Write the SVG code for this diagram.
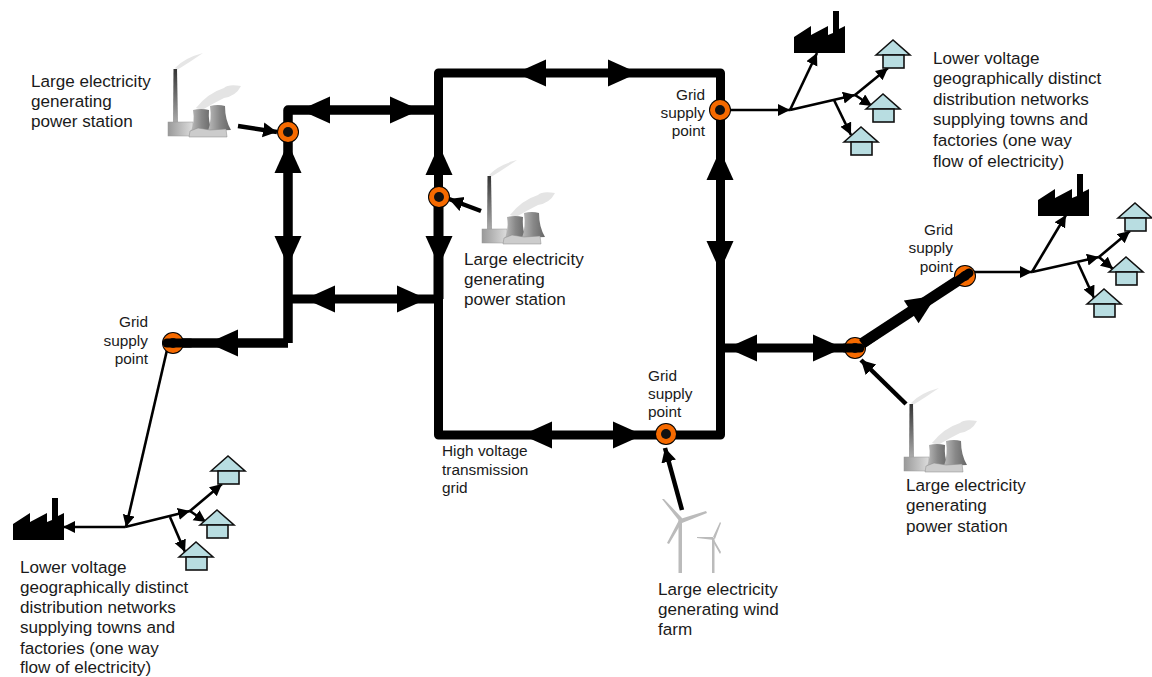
<svg xmlns="http://www.w3.org/2000/svg" width="1152" height="677" viewBox="0 0 1152 677">
<style>
text{font-family:"Liberation Sans",Arial,sans-serif;font-size:15.4px;fill:#1a1a1a}
.big{font-size:17.1px}
.grid{fill:none;stroke:#000;stroke-width:9;stroke-linejoin:round;stroke-linecap:butt}
.thin{fill:none;stroke:#000;stroke-width:2.6;marker-end:url(#a)}
.feed{fill:none;stroke:#000;stroke-width:4.5;marker-end:url(#b)}
.house{fill:#b8dde1;stroke:#111;stroke-width:1.6}
.r{text-anchor:end}
</style>
<defs>
<marker id="a" markerUnits="userSpaceOnUse" markerWidth="14" markerHeight="14" refX="12" refY="6" orient="auto"><path d="M0 0L12 6L0 12z"/></marker>
<marker id="b" markerUnits="userSpaceOnUse" markerWidth="16" markerHeight="16" refX="14" refY="7.5" orient="auto"><path d="M0 0L14 7.5L0 15z"/></marker>
<path id="hd" d="M10 0L-20-13.500L-20 13.500z"/>
<linearGradient id="ch" x1="0" y1="0" x2="0" y2="1"><stop offset="0" stop-color="#333"/><stop offset="1" stop-color="#aaa"/></linearGradient>
<linearGradient id="tw" x1="0" y1="0" x2="1" y2="0"><stop offset="0" stop-color="#bbb"/><stop offset=".5" stop-color="#888"/><stop offset="1" stop-color="#666"/></linearGradient>
<linearGradient id="bd" x1="0" y1="0" x2="1" y2="0"><stop offset="0" stop-color="#999"/><stop offset="1" stop-color="#ddd"/></linearGradient>
<g id="station">
<path d="M175 68Q184 58 203 53Q190 62 177 70z" fill="#e6e6e6"/>
<path d="M196 108Q208 93 224 88Q228 84 241 86Q236 96 224 98Q212 104 202 110z" fill="#e4e4e4"/>
<path d="M173 122L173.500 69L177 69L178 122z" fill="url(#ch)"/>
<rect x="168" y="122" width="25" height="14" fill="url(#bd)" stroke="#999" stroke-width=".5"/>
<path d="M193 110Q201 108 209 110Q208 122 212 131L191 131Q195 122 193 110z" fill="url(#tw)"/>
<path d="M210 106Q218 104 225 106Q225 120 231 130L208 131Q212 120 210 106z" fill="url(#tw)"/>
<path d="M189 137L190 131L198 128L210 130L226 129L227 137z" fill="#ccc" stroke="#888" stroke-width=".5"/>
</g>
<g id="factory"><path d="M794 53L794 37L811 26L811 35L828 26L828 35L833 33L833 11L839 11L839 29L845 26L845 53z" fill="#000"/></g>
<g id="house"><path class="house" d="M-17 15L0 0L17 15z"/><rect class="house" x="-10" y="15" width="21" height="13"/></g>
<g id="wind" fill="#bbb">
<rect x="678.500" y="520" width="3.500" height="53"/>
<path d="M680 519L706 511L707 513L682 523zM680 522L662 499L664 499L682 518zM679 520L682 522L669 544L667 543z"/>
<rect x="712" y="538" width="2.500" height="35"/>
<path d="M714 537L697 537L697 538L714 540zM713 537L720 522L721 523L715 539zM713 538L721 552L720 554L712 540z"/>
</g>
<g id="ring"><circle r="11" fill="#000"/><circle r="10" fill="#f66a00"/><circle r="5" fill="#111"/></g>
</defs>

<g id="connectors">
<path class="grid" d="M288 343V110H438" style="stroke-width:9.500"/>
<path class="grid" d="M288 343H172" style="stroke-width:9.500"/>
<path class="grid" d="M288 299H438"/>
<path class="grid" d="M438.500 299V73H720.500V435H438.500V299"/>
<path class="grid" d="M438.500 197V299" style="stroke-width:10"/>
<path class="grid" d="M720 348H855"/>
<path class="grid" d="M855 348L965 276" style="stroke-width:11"/>
<use href="#hd" transform="translate(310 110) rotate(180)"/>
<use href="#hd" transform="translate(410 110)"/>
<use href="#hd" transform="translate(526 73) rotate(180)"/>
<use href="#hd" transform="translate(628 73)"/>
<use href="#hd" transform="translate(288 153) rotate(-90)"/>
<use href="#hd" transform="translate(288 256) rotate(90)"/>
<use href="#hd" transform="translate(439 155) rotate(-90)"/>
<use href="#hd" transform="translate(439 256) rotate(90)"/>
<use href="#hd" transform="translate(315 299) rotate(180)"/>
<use href="#hd" transform="translate(417 299)"/>
<use href="#hd" transform="translate(218 343) rotate(180)"/>
<use href="#hd" transform="translate(532 435) rotate(180)"/>
<use href="#hd" transform="translate(633 435)"/>
<use href="#hd" transform="translate(720 160) rotate(-90)"/>
<use href="#hd" transform="translate(720 261) rotate(90)"/>
<use href="#hd" transform="translate(737 348) rotate(180)"/>
<use href="#hd" transform="translate(833 348)"/>
<use href="#hd" transform="translate(928 301) rotate(-33)"/>
<path class="feed" d="M238 126L277 132"/>
<path class="feed" d="M481 211L449 199"/>
<path class="feed" d="M906 404L861 360"/>
<path class="feed" d="M682 510L665 448"/>
<path class="thin" d="M718 110L790 110"/>
<path class="thin" d="M790 110L817 53"/>
<path class="thin" d="M790 110L855 95"/>
<path class="thin" d="M855 95L888 68"/>
<path class="thin" d="M855 95L872 106"/>
<path class="thin" d="M834 100L851 135"/>
<path class="thin" d="M965 272L1032 272"/>
<path class="thin" d="M1032 272L1066 215"/>
<path class="thin" d="M1032 272L1099 257"/>
<path class="thin" d="M1099 257L1130 231"/>
<path class="thin" d="M1099 257L1113 269"/>
<path class="thin" d="M1078 263L1094 298"/>
<path class="thin" d="M167 350L126 527"/>
<path class="thin" d="M125 527L63 527"/>
<path class="thin" d="M125 527L190 511"/>
<path class="thin" d="M190 511L222 484"/>
<path class="thin" d="M190 511L206 522"/>
<path class="thin" d="M170 517L185 552"/>
</g>

<g id="station-1"><use href="#station"/><text class="big" x="31" y="87">Large electricity</text><text class="big" x="31" y="107">generating</text><text class="big" x="31" y="127">power station</text></g>
<g id="station-2"><use href="#station" transform="translate(314 107)"/><text class="big" x="464" y="265">Large electricity</text><text class="big" x="464" y="285">generating</text><text class="big" x="464" y="305">power station</text></g>
<g id="station-3"><use href="#station" transform="translate(736 335)"/><text class="big" x="906" y="491">Large electricity</text><text class="big" x="906" y="511">generating</text><text class="big" x="906" y="532">power station</text></g>
<g id="wind-farm"><use href="#wind"/><text class="big" x="658" y="595">Large electricity</text><text class="big" x="658" y="615">generating wind</text><text class="big" x="658" y="635">farm</text></g>

<g id="supply-1"><use href="#ring" x="288" y="132"/></g>
<g id="supply-2"><use href="#ring" x="439" y="197"/></g>
<g id="supply-3"><use href="#ring" x="720" y="110"/><text class="r" x="705" y="100">Grid</text><text class="r" x="705" y="118">supply</text><text class="r" x="705" y="136">point</text></g>
<g id="supply-4"><use href="#ring" x="173" y="343"/><path d="M167 343H190" stroke="#000" stroke-width="9" stroke-linecap="round"/><text class="r" x="148" y="327">Grid</text><text class="r" x="148" y="346">supply</text><text class="r" x="148" y="364">point</text></g>
<g id="supply-5"><use href="#ring" x="666" y="434"/><text x="648" y="381">Grid</text><text x="648" y="399">supply</text><text x="648" y="417">point</text></g>
<g id="supply-6"><use href="#ring" x="855" y="348"/><path d="M845 348H860" stroke="#000" stroke-width="9" stroke-linecap="round"/><path d="M862 344L875 335" stroke="#000" stroke-width="10"/></g>
<g id="supply-7"><use href="#ring" x="965" y="276"/><path d="M950 286L969 273" stroke="#000" stroke-width="9" stroke-linecap="round"/><text class="r" x="953" y="235">Grid</text><text class="r" x="953" y="253">supply</text><text class="r" x="953" y="272">point</text></g>

<g id="transmission-label"><text x="442" y="456">High voltage</text><text x="442" y="475">transmission</text><text x="442" y="493">grid</text></g>

<g id="factory-1"><use href="#factory"/></g>
<g id="house-1a"><use href="#house" x="893" y="40"/></g>
<g id="house-1b"><use href="#house" x="883" y="94"/></g>
<g id="house-1c"><use href="#house" x="861" y="127"/></g>
<g id="factory-2"><use href="#factory" x="244" y="163"/></g>
<g id="house-2a"><use href="#house" x="1135" y="203"/></g>
<g id="house-2b"><use href="#house" x="1126" y="257"/></g>
<g id="house-2c"><use href="#house" x="1104" y="289"/></g>
<g id="factory-3"><use href="#factory" x="-781" y="487"/></g>
<g id="house-3a"><use href="#house" x="228" y="456"/></g>
<g id="house-3b"><use href="#house" x="217" y="510"/></g>
<g id="house-3c"><use href="#house" x="196" y="542"/></g>

<g id="network-label-1"><text class="big" x="933" y="64">Lower voltage</text><text class="big" x="933" y="84">geographically distinct</text><text class="big" x="933" y="105">distribution networks</text><text class="big" x="933" y="125">supplying towns and</text><text class="big" x="933" y="146">factories (one way</text><text class="big" x="933" y="167">flow of electricity)</text></g>
<g id="network-label-2"><text class="big" x="20" y="573">Lower voltage</text><text class="big" x="20" y="593">geographically distinct</text><text class="big" x="20" y="613">distribution networks</text><text class="big" x="20" y="633">supplying towns and</text><text class="big" x="20" y="654">factories (one way</text><text class="big" x="20" y="673">flow of electricity)</text></g>
</svg>
